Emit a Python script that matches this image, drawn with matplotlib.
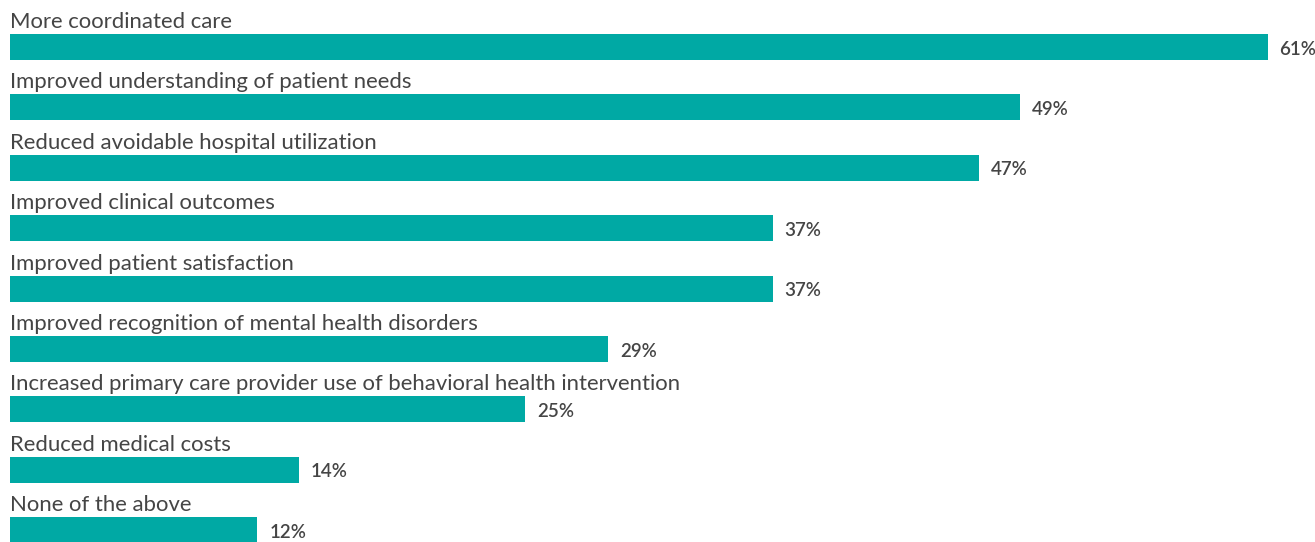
import numpy as np
import matplotlib.pyplot as plt

plt.rcParams['font.family'] = ['Lato', 'DejaVu Sans']

categories = [
    "More coordinated care",
    "Improved understanding of patient needs",
    "Reduced avoidable hospital utilization",
    "Improved clinical outcomes",
    "Improved patient satisfaction",
    "Improved recognition of mental health disorders",
    "Increased primary care provider use of behavioral health intervention",
    "Reduced medical costs",
    "None of the above",
]
values = [61, 49, 47, 37, 37, 29, 25, 14, 12]

bar_color = "#00a9a4"
text_color = "#454545"

fig = plt.figure(figsize=(13.15, 5.42), dpi=100)
ax = fig.add_axes([0, 0, 1, 1])

y = np.arange(len(values))
bar_h = 0.43
ax.barh(y, values, height=bar_h, color=bar_color)

for yi, cat, v in zip(y, categories, values):
    ax.text(0, yi - bar_h / 2 - 0.1, cat, ha="left", va="baseline",
            fontsize=15.9, color=text_color)
    ax.annotate(f"{v}%", (v, yi), xytext=(8.5, -1.5), textcoords="offset points",
                ha="left", va="center", fontsize=13.5, fontweight="semibold",
                color=text_color)

ax.set_xlim(-0.485, 63.29)
ax.set_ylim(8.195, -0.778)
ax.axis("off")

fig.savefig("out.png", dpi=100)
